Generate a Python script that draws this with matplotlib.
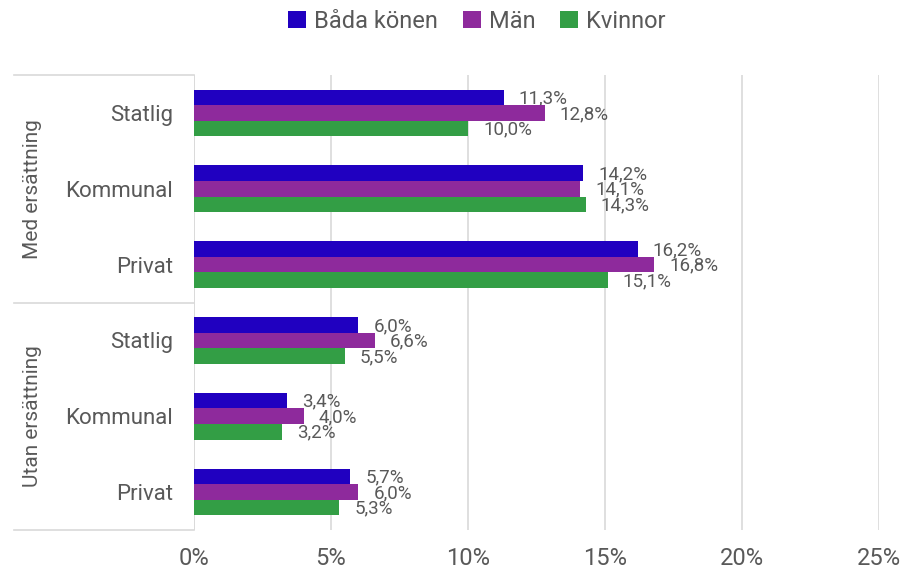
import numpy as np
import matplotlib
matplotlib.use("Agg")
import matplotlib.pyplot as plt

plt.rcParams['font.family'] = ['Roboto', 'DejaVu Sans']

# data
groups = ["Med ersättning", "Utan ersättning"]
categories = ["Statlig", "Kommunal", "Privat", "Statlig", "Kommunal", "Privat"]
series = ["Båda könen", "Män", "Kvinnor"]
bada = [11.3, 14.2, 16.2, 6.0, 3.4, 5.7]
man = [12.8, 14.1, 16.8, 6.6, 4.0, 6.0]
kvinnor = [10.0, 14.3, 15.1, 5.5, 3.2, 5.3]
colors = ["#2000C0", "#8E2A9C", "#339E45"]
xticks = [0, 5, 10, 15, 20, 25]

txt = "#595959"
grid = "#D9D9D9"

fig = plt.figure(figsize=(9.07, 5.74), dpi=100)
ax = fig.add_axes([194/907, 1-530/574, 685/907, 455/574])

y = np.arange(len(categories))
h = 0.205
for i, (vals, name, c) in enumerate(zip([bada, man, kvinnor], series, colors)):
    pos = y + (i - 1) * h
    ax.barh(pos, vals, height=h, color=c, label=name, zorder=3)
    for p, v in zip(pos, vals):
        ax.annotate(f"{v:.1f}%".replace(".", ","), (v, p), xytext=(15, -1),
                    textcoords="offset pixels", va="center", ha="left",
                    fontsize=13.5, color=txt)

ax.set_ylim(len(categories) - 0.5, -0.5)
ax.set_xlim(0, 25)
ax.set_xticks(xticks)
ax.set_xticklabels([f"{t}%" for t in xticks], fontsize=17, color=txt,
                   family=['Liberation Sans Narrow', 'Roboto'])
ax.tick_params(axis="x", length=0, pad=12)
ax.set_yticks(y)
ax.set_yticklabels(categories, fontsize=16, color=txt)
ax.tick_params(axis="y", length=0, pad=15)
ax.xaxis.grid(True, color=grid, linewidth=1.2, zorder=0)
for s in ax.spines.values():
    s.set_visible(False)
ax.axvline(0, color=grid, linewidth=1.2, zorder=2)

# group separators and labels
x0 = (14 - 194) / 685
for yy in [1.0, 0.5, 0.0]:
    ax.plot([x0, 0], [yy, yy], transform=ax.transAxes, color=grid,
            linewidth=1.2, clip_on=False)
for k, g in enumerate(groups):
    ax.text((33 - 194) / 685, 0.75 - 0.5 * k, g, transform=ax.transAxes,
            rotation=90, ha="center", va="center", fontsize=15, color=txt)

leg = fig.legend(loc="center", bbox_to_anchor=(477/907, 1 - 21/574), ncol=3,
                 frameon=False, fontsize=17, handlelength=0.75, handleheight=0.75,
                 handletextpad=0.35, columnspacing=1.05)
for t in leg.get_texts():
    t.set_color(txt)

fig.savefig("out.png", dpi=100)
